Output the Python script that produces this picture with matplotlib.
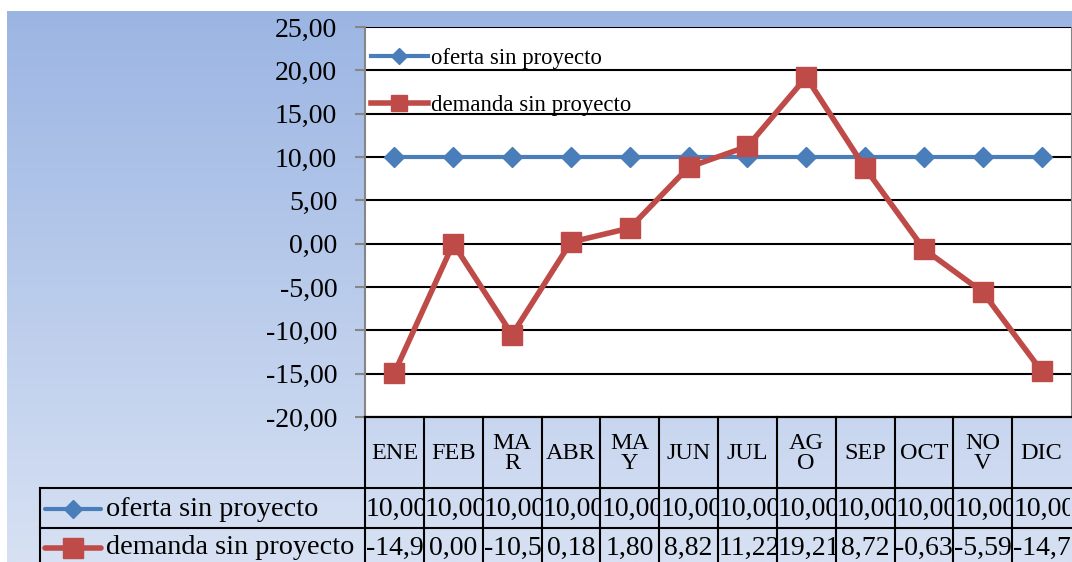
import numpy as np
import matplotlib
matplotlib.use('Agg')
import matplotlib.pyplot as plt
from matplotlib.lines import Line2D
from matplotlib.transforms import Bbox, TransformedBbox

# data
meses = ['ENE', 'FEB', 'MAR', 'ABR', 'MAY', 'JUN', 'JUL', 'AGO', 'SEP', 'OCT', 'NOV', 'DIC']
cabecera = ['ENE', 'FEB', 'MA\nR', 'ABR', 'MA\nY', 'JUN', 'JUL', 'AG\nO', 'SEP', 'OCT', 'NO\nV', 'DIC']
oferta = [10.00, 10.00, 10.00, 10.00, 10.00, 10.00, 10.00, 10.00, 10.00, 10.00, 10.00, 10.00]
demanda = [-14.90, 0.00, -10.50, 0.18, 1.80, 8.82, 11.22, 19.21, 8.72, -0.63, -5.59, -14.70]
series = ['oferta sin proyecto', 'demanda sin proyecto']
yticks = [-20, -15, -10, -5, 0, 5, 10, 15, 20, 25]

AZUL = '#4A7EBB'
ROJO = '#BE4B48'
plt.rcParams['font.family'] = 'Liberation Serif'

W, H = 1072, 562
fig = plt.figure(figsize=(W / 100, H / 100), dpi=100)

# gradient background of the chart area
bg = fig.add_axes([7 / W, 0, 1 - 7 / W, 1 - 11 / H], zorder=-5)
top = np.array([155, 181, 227]) / 255
bot = np.array([215, 225, 243]) / 255
t = np.linspace(0, 1, 256)[:, None]
grad = top[None, :] * (1 - t) + bot[None, :] * t
bg.imshow(grad[:, None, :], aspect='auto', extent=[0, 1, 0, 1])
bg.set_axis_off()

# plot area
px0, px1, py0, py1 = 365, 1071, 27, 417
ax = fig.add_axes([px0 / W, 1 - py1 / H, (px1 - px0) / W, (py1 - py0) / H])
ax.set_facecolor('white')
x = np.arange(len(meses))
ax.plot(x, oferta, color=AZUL, lw=3, marker='D', ms=10, mec=AZUL, label=series[0], zorder=3)
ax.plot(x, demanda, color=ROJO, lw=4, marker='s', ms=15, mec=ROJO, label=series[1], zorder=4)
ax.set_xlim(-0.5, len(meses) - 0.5)
ax.set_ylim(-20, 25)
ax.set_yticks(yticks)
ax.set_yticklabels([('%.2f' % v).replace('.', ',') for v in yticks])
ax.tick_params(axis='y', length=7, color='#868686', width=1.5, labelsize=20, pad=13)
ax.set_xticks([])
ax.grid(axis='y', color='black', lw=1.5, zorder=1)
ax.set_axisbelow(True)
ax.spines['left'].set_color('#868686')
ax.spines['left'].set_linewidth(1.5)
ax.spines['right'].set_color('#868686')
ax.spines['top'].set_visible(False)
ax.spines['bottom'].set_color('black')
ax.spines['bottom'].set_linewidth(1.5)

ax.legend(loc='upper left', bbox_to_anchor=(6 / (px1 - px0), 0.947), frameon=False, fontsize=16.4,
          borderaxespad=0, borderpad=0, handlelength=2.5, handletextpad=0.15,
          labelspacing=1.17, markerscale=0.8)

# data table below the plot, in pixel coordinates
tab = fig.add_axes([0, 0, 1, 1], zorder=2)
tab.set_xlim(0, W)
tab.set_ylim(H, 0)
tab.set_axis_off()
col_w = (px1 - px0) / len(meses)
edges = [px0 + i * col_w for i in range(len(meses) + 1)]
rows = [py1, 488, 528, 575]
lw = 1.5
tab.plot([px0, W], [rows[0], rows[0]], color='black', lw=lw)
for yy in rows[1:3]:
    tab.plot([40, W], [yy, yy], color='black', lw=lw)
tab.plot([40, 40], [rows[1], H], color='black', lw=lw)
for xe in edges[:-1]:
    tab.plot([xe, xe], [rows[0], H], color='black', lw=lw)

# header
for i, lab in enumerate(cabecera):
    tab.text((edges[i] + edges[i + 1]) / 2, (rows[0] + rows[1]) / 2 + 1, lab,
             ha='center', va='center', fontsize=17.5, linespacing=0.95)

# legend column
estilos = [(AZUL, 'D', 9, 3), (ROJO, 's', 15, 4)]
for r, (nombre, (col, mk, ms, lwi)) in enumerate(zip(series, estilos)):
    yc = (rows[1] + rows[2]) / 2 + 1 if r == 0 else rows[2] + 20
    tab.add_line(Line2D([45, 101], [yc, yc], color=col, lw=lwi, solid_capstyle='round'))
    tab.add_line(Line2D([73], [yc], color=col, marker=mk, ms=ms, mec=col))
    tab.text(106, yc, nombre, ha='left', va='center', fontsize=20.3)

# values, clipped to their cell
fig.canvas.draw()
renderer = fig.canvas.get_renderer()
for r, vals in enumerate([oferta, demanda]):
    yc = (rows[1] + rows[2]) / 2 + 1 if r == 0 else rows[2] + 20
    for i, v in enumerate(vals):
        s = ('%.2f' % v).replace('.', ',')
        txt = tab.text((edges[i] + edges[i + 1]) / 2, yc, s, ha='center', va='center', fontsize=20)
        wpx = txt.get_window_extent(renderer).width
        if wpx > col_w - 2:
            txt.set_x(edges[i] + 1)
            txt.set_ha('left')
        cb = TransformedBbox(Bbox([[edges[i] + 1, rows[r + 1]], [edges[i + 1] - 1, rows[r + 2]]]), tab.transData)
        txt.set_clip_box(cb)
        txt.set_clip_on(True)

fig.savefig('out.png', dpi=100)
